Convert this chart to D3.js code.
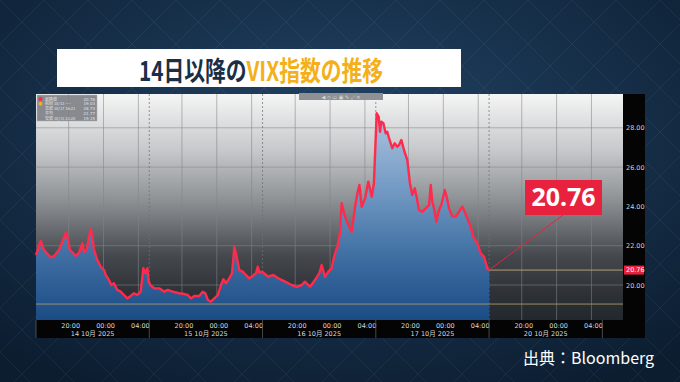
<!DOCTYPE html>
<html>
<head>
<meta charset="utf-8">
<script src="https://cdn.jsdelivr.net/npm/d3@7"></script>
<style>
  html, body { margin: 0; padding: 0; background: #142b43; }
  svg { display: block; }
</style>
</head>
<body>
<div class="chart"></div>
<script>
// --- data ---
var sessions = ["2025-10-14", "2025-10-15", "2025-10-16", "2025-10-17", "2025-10-20"];
var sessionLabels = ["14 10月 2025", "15 10月 2025", "16 10月 2025", "17 10月 2025", "20 10月 2025"];
var tickTimes = ["20:00", "00:00", "04:00"];
var yTicks = [20, 22, 24, 26, 28];
var lastValue = 20.76;
var prevLevel = 19.03;

var vixTimes = [
  "10-14 16:15","10-14 16:47","10-14 17:10","10-14 17:56","10-14 18:19","10-14 18:53","10-14 19:16","10-14 19:40",
  "10-14 19:51","10-14 20:09","10-14 20:32","10-14 20:49","10-14 21:11","10-14 21:34","10-14 21:46","10-14 22:04",
  "10-14 22:20","10-14 22:32","10-14 22:43","10-14 22:55","10-14 23:17","10-14 23:41","10-15 00:04","10-15 00:15",
  "10-15 00:38","10-15 00:53","10-15 01:12","10-15 01:35","10-15 01:58","10-15 02:21","10-15 02:44","10-15 03:07",
  "10-15 03:30","10-15 03:53","10-15 04:16","10-15 04:34","10-15 04:50","10-15 05:02","10-15 05:10",
  "10-15 16:22","10-15 16:50","10-15 17:24","10-15 17:59","10-15 18:22","10-15 18:56","10-15 19:42","10-15 20:16",
  "10-15 20:40","10-15 21:02","10-15 21:25","10-15 22:00","10-15 22:23","10-15 22:41","10-15 22:58","10-15 23:20",
  "10-15 23:43","10-16 00:07","10-16 00:29","10-16 00:45","10-16 01:04","10-16 01:26","10-16 01:45","10-16 02:01",
  "10-16 02:17","10-16 02:35","10-16 02:58","10-16 03:21","10-16 03:44","10-16 04:07","10-16 04:30","10-16 04:42",
  "10-16 04:53","10-16 05:11",
  "10-16 16:25","10-16 16:55","10-16 17:29","10-16 18:04","10-16 18:50","10-16 19:36","10-16 20:10","10-16 20:45",
  "10-16 21:07","10-16 21:42","10-16 22:16","10-16 22:46","10-16 23:02","10-16 23:25","10-16 23:48","10-17 00:11",
  "10-17 00:27","10-17 00:50","10-17 01:08","10-17 01:20","10-17 01:43","10-17 02:05","10-17 02:29","10-17 02:52",
  "10-17 03:08","10-17 03:22","10-17 03:38","10-17 04:01","10-17 04:23","10-17 04:47","10-17 05:02",
  "10-17 16:21","10-17 16:35","10-17 16:44","10-17 16:53","10-17 17:07","10-17 17:23","10-17 17:34","10-17 17:46",
  "10-17 18:08","10-17 18:25","10-17 18:43","10-17 18:55","10-17 19:11","10-17 19:29","10-17 19:52","10-17 20:10",
  "10-17 20:26","10-17 20:43","10-17 20:56","10-17 21:12","10-17 21:35","10-17 21:59","10-17 22:22","10-17 22:33",
  "10-17 22:44","10-17 22:56","10-17 23:12","10-17 23:30","10-17 23:46","10-18 00:10","10-18 00:23","10-18 00:39",
  "10-18 01:02","10-18 01:25","10-18 01:48","10-18 02:11","10-18 02:27","10-18 02:45","10-18 03:08","10-18 03:26",
  "10-18 03:54","10-18 04:17","10-18 04:40","10-18 05:03","10-18 05:15"
];
var vixValues = [
  21.53,22.25,21.78,21.41,21.48,21.78,22.20,22.66,
  22.46,21.78,21.61,21.48,21.64,22.12,21.69,21.78,
  22.46,22.85,22.46,21.78,21.27,20.93,20.76,20.51,
  20.25,20.00,20.09,19.75,19.66,19.49,19.32,19.44,
  19.58,19.49,19.66,20.85,20.60,20.85,20.20,
  20.00,19.83,19.83,19.66,19.75,19.66,19.58,19.54,
  19.49,19.32,19.44,19.44,19.66,19.58,19.24,19.15,
  19.32,19.49,20.00,20.29,20.09,20.34,20.60,21.95,
  21.44,20.76,20.68,20.51,20.34,20.46,20.60,20.93,
  20.63,20.68,
  20.60,20.42,20.51,20.34,20.17,20.00,19.91,20.00,
  20.17,19.91,20.25,20.60,21.02,20.42,20.68,20.85,
  21.44,21.95,22.63,24.16,23.48,23.05,22.71,23.98,
  24.67,25.09,23.98,24.41,25.26,24.49,25.18,
  28.74,28.56,27.80,28.31,28.23,27.72,27.80,27.47,
  26.96,27.21,27.04,27.12,27.38,26.87,26.36,25.18,
  24.58,24.92,24.49,23.82,23.73,23.90,24.07,25.09,
  24.24,23.90,23.22,23.82,24.07,24.83,24.49,23.90,
  23.48,23.48,23.73,23.98,23.73,23.39,22.97,22.46,
  22.12,21.61,21.44,20.85,20.76
];

var legendRows = [
  ["最終値", "", "20.76"],
  ["前回 10/13", "----", "19.03"],
  ["高値 10/17", "16:21", "28.74"],
  ["平均", "", "21.77"],
  ["安値 10/15", "23:20", "19.15"]
];

// --- layout ---
var width = 680, height = 382;
var plot = { left: 36, right: 623, top: 94, bottom: 320 };
var sessionHoursLen = 13;      // 16:15 -> 05:15 JST
var sessionOpen = 16.25;

var fmtDay = d3.timeFormat("%Y-%m-%d");
function sessionHours(t) {
  var p = t.split(/[- :]/).map(Number);
  var dt = new Date(2025, p[0] - 1, p[1], p[2], p[3]);
  var shifted = new Date(dt.getTime() - sessionOpen * 3600e3);
  var idx = sessions.indexOf(fmtDay(shifted));
  var start = new Date(shifted.getFullYear(), shifted.getMonth(), shifted.getDate());
  return idx * sessionHoursLen + (shifted - start) / 3600e3;
}
function clockHours(t) {
  var p = t.split(":").map(Number);
  var h = p[0] + p[1] / 60 - sessionOpen;
  return h < 0 ? h + 24 : h;
}

var pxPerHour = 113.27 / sessionHoursLen;
var x = d3.scaleLinear()
  .domain([0, (plot.right - plot.left) / pxPerHour])
  .range([plot.left, plot.right]);
var y = d3.scaleLinear().domain([20, 28]).range([285, 127.8]);

var data = vixTimes.map(function (t, i) { return { h: sessionHours(t), v: vixValues[i] }; });

var svg = d3.select(".chart").append("svg").attr("width", width).attr("height", height);
var defs = svg.append("defs");

// page background
var bg = defs.append("radialGradient").attr("id", "bg").attr("cx", "50%").attr("cy", "35%").attr("r", "75%");
bg.append("stop").attr("offset", "0%").attr("stop-color", "#224466");
bg.append("stop").attr("offset", "100%").attr("stop-color", "#0c1d30");
var pat = defs.append("pattern").attr("id", "lattice").attr("width", 44).attr("height", 44)
  .attr("patternUnits", "userSpaceOnUse");
pat.append("path").attr("d", "M0,0L44,44M44,0L0,44").attr("stroke", "rgba(255,255,255,0.05)").attr("stroke-width", 1);

svg.append("rect").attr("width", width).attr("height", height).attr("fill", "url(#bg)");
svg.append("rect").attr("width", width).attr("height", height).attr("fill", "url(#lattice)");

// title (condensed bold face, squeezed horizontally)
svg.append("rect").attr("x", 57).attr("y", 49).attr("width", 404).attr("height", 38).attr("fill", "#ffffff");
var title = svg.append("text").attr("text-anchor", "middle")
  .attr("transform", "translate(261,81) scale(0.77,1)")
  .style("font-family", "'Noto Sans CJK JP'").style("font-weight", 700).style("font-size", "27px");
title.append("tspan").attr("fill", "#1a2f47").text("14日以降の");
title.append("tspan").attr("fill", "#f4b019").text("VIX指数の推移");

// plot background
var pg = defs.append("linearGradient").attr("id", "plotbg").attr("x1", 0).attr("y1", 0).attr("x2", 0).attr("y2", 1);
[["0%", "#f5f5f5"], ["25%", "#c6c8ca"], ["50%", "#85898d"], ["72%", "#44484d"], ["88%", "#2e3236"], ["100%", "#22282e"]]
  .forEach(function (s) { pg.append("stop").attr("offset", s[0]).attr("stop-color", s[1]); });
svg.append("rect").attr("x", plot.left).attr("y", plot.top)
  .attr("width", plot.right - plot.left).attr("height", plot.bottom - plot.top).attr("fill", "url(#plotbg)");

var ag = defs.append("linearGradient").attr("id", "areafill").attr("gradientUnits", "userSpaceOnUse")
  .attr("x1", 0).attr("y1", 110).attr("x2", 0).attr("y2", plot.bottom);
[["0%", "#afc7e0"], ["40%", "#6f97c2"], ["70%", "#3e6ea2"], ["100%", "#1a4b84"]]
  .forEach(function (s) { ag.append("stop").attr("offset", s[0]).attr("stop-color", s[1]); });

// grid
var tickPos = [];
sessions.forEach(function (s, i) {
  tickTimes.forEach(function (t) { tickPos.push(i * sessionHoursLen + clockHours(t)); });
});
var bounds = sessions.map(function (s, i) { return i * sessionHoursLen; });

var grid = svg.append("g");
grid.selectAll(".hg").data(yTicks).enter().append("line")
  .attr("x1", plot.left).attr("x2", plot.right)
  .attr("y1", function (d) { return y(d); }).attr("y2", function (d) { return y(d); })
  .attr("stroke", "rgba(130,132,136,0.7)").attr("stroke-width", 0.8);
grid.selectAll(".vg").data(tickPos).enter().append("line")
  .attr("x1", function (d) { return x(d); }).attr("x2", function (d) { return x(d); })
  .attr("y1", plot.top).attr("y2", plot.bottom)
  .attr("stroke", "rgba(130,132,136,0.7)").attr("stroke-width", 0.8);
grid.selectAll(".sg").data(bounds.slice(1)).enter().append("line")
  .attr("x1", function (d) { return x(d); }).attr("x2", function (d) { return x(d); })
  .attr("y1", plot.top).attr("y2", plot.bottom)
  .attr("stroke", "rgba(110,112,116,0.9)").attr("stroke-width", 0.8).attr("stroke-dasharray", "2,2");

// area + line
var area = d3.area().x(function (d) { return x(d.h); }).y0(plot.bottom).y1(function (d) { return y(d.v); });
var line = d3.line().x(function (d) { return x(d.h); }).y(function (d) { return y(d.v); });
svg.append("path").datum(data).attr("d", area).attr("fill", "url(#areafill)");

// reference lines
svg.append("line").attr("x1", plot.left).attr("x2", plot.right)
  .attr("y1", y(prevLevel)).attr("y2", y(prevLevel))
  .attr("stroke", "#a8986a").attr("stroke-width", 0.9);
var last = data[data.length - 1];
svg.append("line").attr("x1", x(last.h)).attr("x2", plot.right)
  .attr("y1", y(lastValue)).attr("y2", y(lastValue))
  .attr("stroke", "#c0a875").attr("stroke-width", 0.9);

svg.append("path").datum(data).attr("d", line).attr("fill", "none")
  .attr("stroke", "#ff2a4c").attr("stroke-width", 2.4).attr("stroke-linejoin", "round");

// legend box
var lg = svg.append("g").attr("transform", "translate(37,95)");
lg.append("rect").attr("width", 60).attr("height", 26).attr("fill", "rgba(125,128,133,0.9)")
  .attr("stroke", "#b0b3b6").attr("stroke-width", 0.5);
lg.selectAll("circle").data(["#ff2a3c", "#f2b01e"]).enter().append("circle")
  .attr("cx", 3.5).attr("cy", function (d, i) { return 4 + i * 4.8; }).attr("r", 2)
  .attr("fill", function (d) { return d; });
legendRows.forEach(function (r, i) {
  var ty = 5.5 + i * 4.8;
  lg.append("text").attr("x", 8).attr("y", ty).attr("fill", "#e4e4e4")
    .style("font-family", "'Noto Sans CJK JP'").style("font-size", "4px").text(r[0] + " " + r[1]);
  lg.append("text").attr("x", 58).attr("y", ty).attr("text-anchor", "end").attr("fill", "#e4e4e4")
    .style("font-family", "'DejaVu Sans'").style("font-size", "4px").text(r[2]);
});

// toolbar
svg.append("rect").attr("x", 299).attr("y", 93).attr("width", 84).attr("height", 7).attr("fill", "#8e9093");
svg.append("text").attr("x", 341).attr("y", 98.5).attr("text-anchor", "middle").attr("fill", "#d8d8d8")
  .style("font-family", "'DejaVu Sans'").style("font-size", "5px").text("◀  ◇  ▭  ▣  ✎  ⤢  ✕");

// right axis band
svg.append("rect").attr("x", plot.right).attr("y", plot.top).attr("width", 22).attr("height", 338 - plot.top)
  .attr("fill", "#040404");
var yAxis = d3.axisRight(y).tickValues(yTicks).tickFormat(d3.format(".2f")).tickSize(0).tickPadding(3);
var ya = svg.append("g").attr("transform", "translate(" + plot.right + ",0)").call(yAxis);
ya.select(".domain").remove();
ya.selectAll("text").attr("fill", "#d2d2d2").style("font-family", "'DejaVu Sans'").style("font-size", "6.5px");
svg.append("rect").attr("x", plot.right + 1).attr("y", y(lastValue) - 4.5).attr("width", 20).attr("height", 9)
  .attr("fill", "#e8223e");
svg.append("text").attr("x", plot.right + 3).attr("y", y(lastValue) + 2.3).attr("fill", "#ffffff")
  .style("font-family", "'DejaVu Sans'").style("font-size", "6.5px").text(d3.format(".2f")(lastValue));

// x axis band
svg.append("rect").attr("x", plot.left).attr("y", plot.bottom).attr("width", plot.right - plot.left + 22)
  .attr("height", 18).attr("fill", "#040404");
var xAxis = d3.axisBottom(x).tickValues(tickPos)
  .tickFormat(function (d, i) { return tickTimes[i % tickTimes.length]; }).tickSize(0).tickPadding(3);
var xa = svg.append("g").attr("transform", "translate(1.5," + plot.bottom + ")").call(xAxis);
xa.select(".domain").remove();
xa.selectAll("text").attr("fill", "#d8d8d8").style("font-family", "'DejaVu Sans'").style("font-size", "6.5px");
svg.append("g").selectAll("line").data(bounds.concat([sessions.length * sessionHoursLen])).enter().append("line")
  .attr("x1", function (d) { return x(d); }).attr("x2", function (d) { return x(d); })
  .attr("y1", plot.bottom).attr("y2", 338).attr("stroke", "#5a5a5a").attr("stroke-width", 0.8);
svg.append("g").selectAll("text").data(sessionLabels).enter().append("text")
  .attr("x", function (d, i) { return x(i * sessionHoursLen + sessionHoursLen / 2); })
  .attr("y", 335.5).attr("text-anchor", "middle").attr("fill", "#d8d8d8")
  .style("font-family", "'DejaVu Sans', 'Noto Sans CJK JP'").style("font-size", "6.5px").text(function (d) { return d; });

// callout
var bx = 525, by = 180, bw = 77, bh = 35;
svg.append("line").attr("x1", x(last.h)).attr("y1", y(last.v)).attr("x2", bx + 38).attr("y2", by + bh)
  .attr("stroke", "#e8223e").attr("stroke-width", 1);
svg.append("rect").attr("x", bx).attr("y", by).attr("width", bw).attr("height", bh).attr("fill", "#e8223e");
svg.append("text").attr("x", bx + bw / 2).attr("y", by + 26).attr("text-anchor", "middle").attr("fill", "#ffffff")
  .style("font-family", "'Noto Sans'").style("font-weight", 700).style("font-size", "25px")
  .text(d3.format(".2f")(lastValue));

// source
svg.append("text").attr("x", 523).attr("y", 364).attr("fill", "#ffffff")
  .style("font-family", "'Noto Sans CJK JP'").style("font-size", "16px").text("出典：Bloomberg");
</script>
</body>
</html>
